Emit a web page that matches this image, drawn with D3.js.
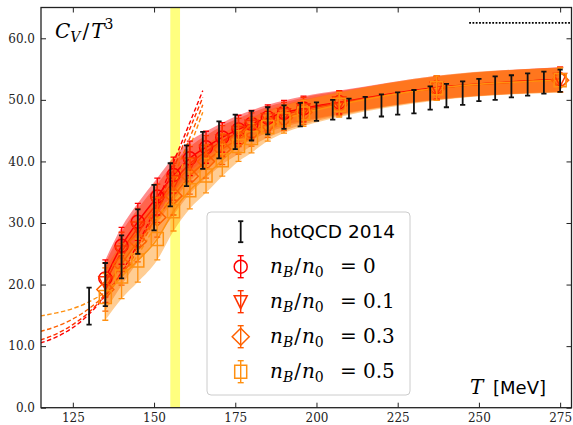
<!DOCTYPE html>
<html>
<head>
<meta charset="utf-8">
<script src="https://cdn.jsdelivr.net/npm/d3@7"></script>
<style>
body { margin: 0; background: #fff; }
svg { display: block; }
</style>
</head>
<body>
<script>
// hotQCD 2014 lattice data (T in MeV, C_V/T^3, error)
var latticeT   = [130, 135, 140, 145, 150, 155, 160, 165, 170, 175, 180, 185, 190, 195, 200, 205, 210, 215, 220, 225, 230, 235, 240, 245, 250, 255, 260, 265, 270, 275];
var latticeCV  = [16.5, 20.0, 24.5, 28.6, 32.5, 36.2, 39.3, 41.8, 43.5, 44.8, 45.8, 46.6, 47.2, 47.6, 48.1, 48.4, 48.6, 48.8, 49.1, 49.4, 49.7, 50.3, 50.7, 51.1, 51.6, 51.9, 52.2, 52.5, 52.8, 53.1];
var latticeErr = [3.0, 3.5, 3.5, 3.6, 3.7, 3.5, 3.3, 3.0, 3.0, 2.8, 2.4, 2.2, 1.9, 1.9, 1.5, 1.6, 1.6, 1.7, 1.8, 1.8, 1.9, 1.9, 1.9, 1.9, 1.8, 1.9, 1.8, 1.8, 1.8, 1.8];

// model results for the four baryon densities
var modelT  = [135, 140, 145, 151, 156, 161, 166, 171, 176, 180, 185, 190, 196, 207, 237, 275];
var cvNB0   = [21.0, 26.3, 30.2, 34.3, 37.8, 40.5, 42.3, 43.9, 45.2, 46.1, 47.1, 47.9, 48.6, 49.6, 52.0, 53.3];
var cvNB01  = [20.3, 25.3, 29.2, 33.2, 36.7, 39.6, 41.6, 43.3, 44.7, 45.7, 46.8, 47.6, 48.4, 49.5, 51.9, 53.3];
var cvNB03  = [19.2, 23.3, 27.0, 30.9, 34.4, 37.6, 40.0, 42.0, 43.6, 44.8, 46.1, 47.1, 48.0, 49.3, 51.9, 53.2];
var cvNB05  = [18.0, 21.3, 23.9, 27.4, 31.9, 35.3, 37.7, 40.2, 42.5, 43.8, 45.6, 46.8, 47.8, 49.2, 51.9, 53.2];
var errNB0  = [3.0, 3.0, 3.0, 3.0, 2.9, 2.8, 2.6, 2.4, 2.3, 2.2, 2.1, 2.0, 2.0, 1.9, 1.9, 2.0];
var errNB01 = [3.2, 3.2, 3.1, 3.1, 3.0, 2.8, 2.6, 2.5, 2.3, 2.2, 2.1, 2.0, 2.0, 1.9, 1.9, 2.0];
var errNB03 = [3.5, 3.4, 3.3, 3.2, 3.1, 2.9, 2.7, 2.5, 2.4, 2.3, 2.2, 2.1, 2.0, 1.9, 1.9, 2.0];
var errNB05 = [3.8, 3.6, 3.5, 3.4, 3.2, 3.0, 2.8, 2.6, 2.5, 2.4, 2.3, 2.2, 2.1, 2.0, 2.0, 2.0];
var densityLabels = ['0', '0.1', '0.3', '0.5'];

// dashed resonance gas curves
var hrgT    = [115, 120, 125, 130, 135, 140, 145, 150, 155, 160, 165];
var hrgNB0  = [10.5, 11.5, 13.0, 15.2, 18.2, 22.0, 26.6, 32.0, 38.6, 45.0, 51.5];
var hrgNB01 = [11.0, 12.0, 13.5, 15.5, 18.3, 21.9, 26.3, 31.5, 37.6, 44.0, 50.4];
var hrgNB03 = [12.4, 13.2, 14.4, 16.1, 18.4, 21.6, 25.6, 30.5, 36.3, 42.5, 49.2];
var hrgNB05 = [14.9, 15.4, 16.1, 17.2, 18.8, 21.3, 24.8, 29.3, 34.8, 41.0, 48.0];

var xTicks = [125, 150, 175, 200, 225, 250, 275];
var yTicks = [0, 10, 20, 30, 40, 50, 60];
var crossover = [155, 158];
var sbValue = 62.5, sbStart = 247;

var width = 573, height = 425;
var margins = { left: 41, right: 1.5, top: 7.5, bottom: 17.3 };
var colors = ['#ff0000', '#ff3300', '#ff6000', '#ff9010'];
var shapes = ['circle', 'tri', 'diamond', 'square'];

var series = [cvNB0, cvNB01, cvNB03, cvNB05].map(function(cv, i) {
    var err = [errNB0, errNB01, errNB03, errNB05][i];
    var hrg = [hrgNB0, hrgNB01, hrgNB03, hrgNB05][i];
    return {
        label: densityLabels[i], color: colors[i], shape: shapes[i],
        points: modelT.map(function(t, j) { return { t: t, v: cv[j], e: err[j] }; }),
        hrg: hrgT.map(function(t, j) { return { t: t, v: hrg[j] }; })
    };
});
var lattice = latticeT.map(function(t, i) { return { t: t, v: latticeCV[i], e: latticeErr[i] }; });

var x = d3.scaleLinear().domain([115.2, 278.5]).range([margins.left, width - margins.right]);
var y = d3.scaleLinear().domain([0, 65]).range([height - margins.bottom, margins.top]);

var svg = d3.select("body").append("svg")
            .attr("width", width)
            .attr("height", height);

svg.append("defs").append("clipPath").attr("id", "plotclip")
    .append("rect")
    .attr("x", x.range()[0]).attr("y", y.range()[1])
    .attr("width", x.range()[1] - x.range()[0])
    .attr("height", y.range()[0] - y.range()[1]);

var plot = svg.append("g").attr("clip-path", "url(#plotclip)");

// crossover band
plot.append("rect")
    .attr("x", x(crossover[0]))
    .attr("y", y(65))
    .attr("width", x(crossover[1]) - x(crossover[0]))
    .attr("height", y(0) - y(65))
    .attr("fill", "#ffff00")
    .attr("fill-opacity", 0.5);

function markerPath(shape) {
    if (shape === 'circle') return "M6.5,0A6.5,6.5 0 1,1 -6.5,0A6.5,6.5 0 1,1 6.5,0Z";
    if (shape === 'tri') return "M-6.5,-6L6.5,-6L0,7Z";
    if (shape === 'diamond') return "M0,-8.5L8.5,0L0,8.5L-8.5,0Z";
    return "M-6,-6.5L6,-6.5L6,6.5L-6,6.5Z";
}

var area = d3.area().curve(d3.curveMonotoneX)
    .x(function(d) { return x(d.t); })
    .y0(function(d) { return y(d.v - d.e); })
    .y1(function(d) { return y(d.v + d.e); });
var line = d3.line().curve(d3.curveMonotoneX)
    .x(function(d) { return x(d.t); })
    .y(function(d) { return y(d.v); });

// bands (lowest density first, so the orange ones end up on top)
series.forEach(function(s) {
    plot.append("path").attr("d", area(s.points))
        .attr("fill", s.color).attr("fill-opacity", 0.45).attr("stroke", "none");
});
// centre lines
series.forEach(function(s) {
    plot.append("path").attr("d", line(s.points))
        .attr("fill", "none").attr("stroke", s.color).attr("stroke-width", 1.5);
});
// dashed resonance gas curves
series.forEach(function(s) {
    plot.append("path").attr("d", line(s.hrg))
        .attr("fill", "none").attr("stroke", s.color).attr("stroke-width", 1.4)
        .attr("stroke-dasharray", "4.5,2.5");
});

function errorBars(g, data, color, sw, cap) {
    var bars = g.selectAll(null).data(data).enter().append("g");
    bars.append("line")
        .attr("x1", function(d) { return x(d.t); }).attr("x2", function(d) { return x(d.t); })
        .attr("y1", function(d) { return y(d.v - d.e); }).attr("y2", function(d) { return y(d.v + d.e); })
        .attr("stroke", color).attr("stroke-width", sw);
    [-1, 1].forEach(function(sgn) {
        bars.append("line")
            .attr("x1", function(d) { return x(d.t) - cap; }).attr("x2", function(d) { return x(d.t) + cap; })
            .attr("y1", function(d) { return y(d.v + sgn * d.e); }).attr("y2", function(d) { return y(d.v + sgn * d.e); })
            .attr("stroke", color).attr("stroke-width", sw);
    });
}

// model markers and error bars
series.forEach(function(s) {
    var g = plot.append("g");
    errorBars(g, s.points, s.color, 1.3, 3);
    g.selectAll(".mk").data(s.points).enter().append("path")
        .attr("transform", function(d) { return "translate(" + x(d.t) + "," + y(d.v) + ")"; })
        .attr("d", markerPath(s.shape))
        .attr("fill", "none").attr("stroke", s.color).attr("stroke-width", 1.5);
});

// lattice data
errorBars(plot.append("g"), lattice, "#111", 1.8, 2.6);

// Stefan-Boltzmann limit
plot.append("line")
    .attr("x1", x(sbStart)).attr("x2", x(278.5))
    .attr("y1", y(sbValue)).attr("y2", y(sbValue))
    .attr("stroke", "#000").attr("stroke-width", 1.8)
    .attr("stroke-dasharray", "1.8,1.5");

// axes with inward ticks
var tickFont = "'DejaVu Serif', serif";
var axBottom = svg.append("g").attr("transform", "translate(0," + y(0) + ")")
    .call(d3.axisBottom(x).tickValues(xTicks).tickSizeInner(-5).tickSizeOuter(0).tickPadding(6));
var axLeft = svg.append("g").attr("transform", "translate(" + x.range()[0] + ",0)")
    .call(d3.axisLeft(y).tickValues(yTicks).tickFormat(d3.format(".1f")).tickSizeInner(-5).tickSizeOuter(0).tickPadding(6));
var axTop = svg.append("g").attr("transform", "translate(0," + y(65) + ")")
    .call(d3.axisTop(x).tickValues(xTicks).tickFormat("").tickSizeInner(-5).tickSizeOuter(0));
var axRight = svg.append("g").attr("transform", "translate(" + x.range()[1] + ",0)")
    .call(d3.axisRight(y).tickValues(yTicks).tickFormat("").tickSizeInner(-5).tickSizeOuter(0));
[axBottom, axLeft, axTop, axRight].forEach(function(a) {
    a.select(".domain").remove();
    a.selectAll(".tick line").attr("stroke", "#222").attr("stroke-width", 1);
    a.selectAll("text").attr("font-family", tickFont).attr("font-size", "12px").attr("fill", "#222");
});

svg.append("rect")
    .attr("x", x.range()[0]).attr("y", y.range()[1])
    .attr("width", x.range()[1] - x.range()[0])
    .attr("height", y.range()[0] - y.range()[1])
    .attr("fill", "none").attr("stroke", "#222").attr("stroke-width", 1.3);

// axis labels
var mathFont = "'DejaVu Serif', serif";
var yl = svg.append("text").attr("x", 55).attr("y", 38)
    .attr("font-family", mathFont).attr("font-size", "20px").attr("font-style", "italic");
yl.append("tspan").text("C");
yl.append("tspan").attr("font-size", "14px").attr("dy", 4).text("V");
yl.append("tspan").attr("dy", -4).attr("font-style", "normal").attr("dx", 2).text("/");
yl.append("tspan").attr("dx", 2).text("T");
yl.append("tspan").attr("font-size", "14px").attr("font-style", "normal").attr("dy", -9).text("3");

svg.append("text").attr("x", 470).attr("y", 394)
    .attr("font-family", mathFont).attr("font-size", "20px").attr("font-style", "italic").text("T");
svg.append("text").attr("x", 493).attr("y", 394)
    .attr("font-family", "'DejaVu Sans', sans-serif").attr("font-size", "18px").text("[MeV]");

// legend
var legend = svg.append("g");
legend.append("rect")
    .attr("x", 207).attr("y", 212).attr("width", 203).attr("height", 183)
    .attr("rx", 4).attr("fill", "#fff").attr("fill-opacity", 0.8)
    .attr("stroke", "#cccccc").attr("stroke-width", 1);

var legendX = 240.7, textX = 270, rowY = 231.7, rowGap = 35;
var lg0 = legend.append("g").attr("transform", "translate(" + legendX + "," + rowY + ")");
lg0.append("line").attr("y1", -10.5).attr("y2", 10.5).attr("stroke", "#111").attr("stroke-width", 1.8);
lg0.append("line").attr("x1", -2.6).attr("x2", 2.6).attr("y1", -10.5).attr("y2", -10.5).attr("stroke", "#111").attr("stroke-width", 1.8);
lg0.append("line").attr("x1", -2.6).attr("x2", 2.6).attr("y1", 10.5).attr("y2", 10.5).attr("stroke", "#111").attr("stroke-width", 1.8);
legend.append("text").attr("x", textX).attr("y", rowY + 6)
    .attr("font-family", "'DejaVu Sans', sans-serif").attr("font-size", "18.5px").text("hotQCD 2014");

series.forEach(function(s, i) {
    var cy = rowY + rowGap * (i + 1);
    var g = legend.append("g").attr("transform", "translate(" + legendX + "," + cy + ")");
    g.append("line").attr("y1", -11).attr("y2", 11).attr("stroke", s.color).attr("stroke-width", 1.4);
    [-11, 11].forEach(function(yy) {
        g.append("line").attr("x1", -3).attr("x2", 3).attr("y1", yy).attr("y2", yy)
            .attr("stroke", s.color).attr("stroke-width", 1.4);
    });
    g.append("path").attr("d", markerPath(s.shape)).attr("fill", "none")
        .attr("stroke", s.color).attr("stroke-width", 1.5);

    var t = legend.append("text").attr("x", textX).attr("y", cy + 6)
        .attr("font-family", mathFont).attr("font-size", "20px").attr("font-style", "italic");
    t.append("tspan").text("n");
    t.append("tspan").attr("font-size", "14px").attr("dy", 4.5).text("B");
    t.append("tspan").attr("dy", -4.5).attr("dx", 1).attr("font-style", "normal").text("/");
    t.append("tspan").attr("dx", 1).text("n");
    t.append("tspan").attr("font-size", "14px").attr("dy", 4.5).attr("font-style", "normal").text("0");
    legend.append("text").attr("x", textX + 70).attr("y", cy + 6)
        .attr("font-family", mathFont).attr("font-size", "20px").text("=");
    legend.append("text").attr("x", textX + 93).attr("y", cy + 6)
        .attr("font-family", mathFont).attr("font-size", "20px").text(s.label);
});
</script>
</body>
</html>
